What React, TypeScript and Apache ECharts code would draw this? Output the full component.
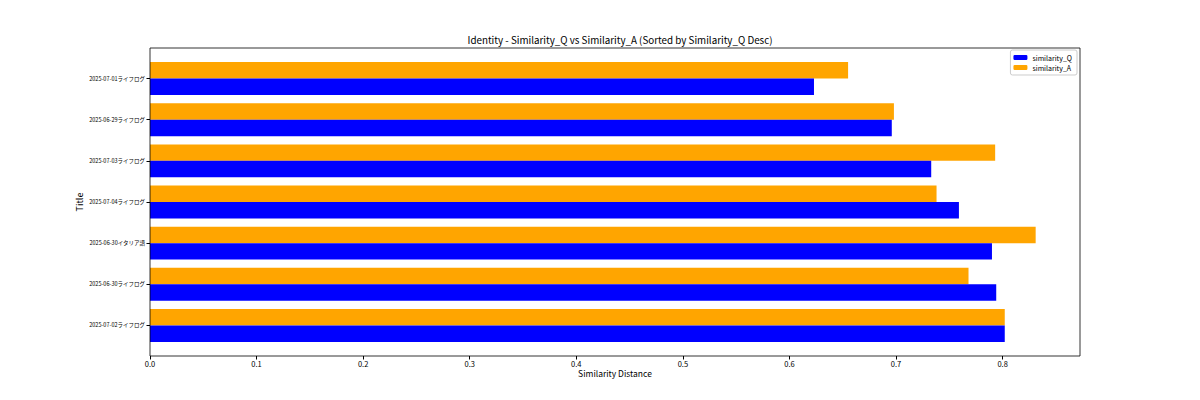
import React, { useEffect, useRef } from "react";
import * as echarts from "echarts";

const CATEGORIES = [
  "2025-07-02ライフログ",
  "2025-06-30ライフログ",
  "2025-06-30イタリア語",
  "2025-07-04ライフログ",
  "2025-07-03ライフログ",
  "2025-06-29ライフログ",
  "2025-07-01ライフログ",
];
const SIMILARITY_Q = [0.802, 0.794, 0.79, 0.759, 0.733, 0.696, 0.623];
const SIMILARITY_A = [0.802, 0.768, 0.831, 0.738, 0.793, 0.698, 0.655];
const X_TICKS = [0, 0.1, 0.2, 0.3, 0.4, 0.5, 0.6, 0.7, 0.8];
const X_MAX = 0.8726;

const FONT = '"Noto Sans CJK JP", "Noto Sans", sans-serif';

export default function App() {
  const ref = useRef<HTMLDivElement>(null);
  useEffect(() => {
    document.body.style.margin = "0";
    if (!ref.current) return;
    const chart = echarts.init(ref.current, undefined, { renderer: "svg" });
    chart.setOption({
      animation: false,
      backgroundColor: "#ffffff",
      textStyle: { fontFamily: FONT, color: "#000" },
      title: {
        text: "Identity - Similarity_Q vs Similarity_A (Sorted by Similarity_Q Desc)",
        left: 615,
        top: 30,
        textAlign: "center",
        textStyle: { fontSize: 9.8, fontWeight: "normal", color: "#000", fontFamily: FONT },
      },
      legend: {
        data: ["similarity_Q", "similarity_A"],
        orient: "vertical",
        right: 123,
        top: 50,
        itemWidth: 14,
        itemHeight: 5,
        itemGap: 3,
        padding: [4, 5, 4, 3],
        borderColor: "#cccccc",
        borderWidth: 1,
        borderRadius: 2,
        backgroundColor: "#ffffff",
        textStyle: { fontSize: 7, color: "#000", fontFamily: FONT },
      },
      grid: [
        { left: 150, right: 120, top: 48, bottom: 44, show: true, borderColor: "#000", borderWidth: 0.8, backgroundColor: "transparent", z: 10 },
        { left: 150, right: 120, top: 58, bottom: 54 },
      ],
      xAxis: [
        {
          type: "value",
          gridIndex: 0,
          min: 0,
          max: X_MAX,
          splitLine: { show: false },
          axisLine: { show: false },
          axisTick: { show: true, length: 3.5, lineStyle: { color: "#000" }, customValues: X_TICKS },
          axisLabel: {
            fontSize: 7.5,
            color: "#000",
            margin: 4,
            customValues: X_TICKS,
            formatter: (v: number) => v.toFixed(1),
          },
          name: "Similarity Distance",
          nameLocation: "middle",
          nameGap: 13,
          nameMoveOverlap: false,
          nameTextStyle: { fontSize: 8.5, color: "#000" },
        },
        {
          type: "value",
          gridIndex: 1,
          min: 0,
          max: X_MAX,
          show: false,
        },
      ],
      yAxis: [
        {
          type: "value",
          gridIndex: 0,
          min: 0,
          max: 1,
          axisLine: { show: false },
          axisTick: { show: false },
          axisLabel: { show: false },
          splitLine: { show: false },
          name: "Title",
          nameLocation: "middle",
          nameGap: 66,
          nameMoveOverlap: false,
          nameTextStyle: { fontSize: 9, color: "#000" },
        },
        {
          type: "category",
          gridIndex: 1,
          data: CATEGORIES,
          axisLine: { show: false },
          axisTick: { show: true, alignWithLabel: true, length: 3.5, lineStyle: { color: "#000" } },
          axisLabel: { fontSize: 5.5, color: "#000", margin: 5 },
          splitLine: { show: false },
        },
      ],
      series: [
        {
          name: "similarity_A",
          type: "bar",
          xAxisIndex: 1,
          yAxisIndex: 1,
          data: SIMILARITY_A,
          barWidth: "40%",
          barGap: "0%",
          itemStyle: { color: "#ffa500" },
        },
        {
          name: "similarity_Q",
          type: "bar",
          xAxisIndex: 1,
          yAxisIndex: 1,
          data: SIMILARITY_Q,
          barWidth: "40%",
          barGap: "0%",
          itemStyle: { color: "#0000ff" },
        },
      ],
    });
    return () => chart.dispose();
  }, []);
  return <div ref={ref} style={{ width: 1200, height: 400 }} />;
}
